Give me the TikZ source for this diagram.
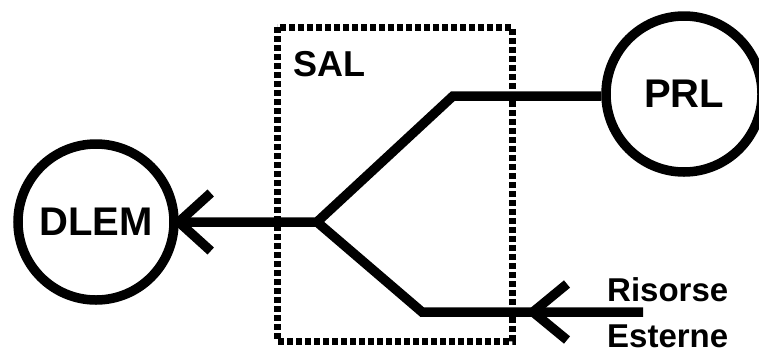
\documentclass[tikz,border=0pt]{standalone}
\usepackage{fontspec}
\setmainfont{Liberation Sans}
\usetikzlibrary{calc}
\begin{document}
\begin{tikzpicture}[x=1pt,y=-1pt,
  wire/.style={line width=9.5pt, line join=miter},
  barb/.style={line width=9.5pt, line join=miter, line cap=butt},
  ring/.style={circle, draw, line width=9.5pt, inner sep=0pt, font=\bfseries\fontsize{40}{44}\selectfont},
  dotbox/.style={line width=7pt, dash pattern=on 6pt off 3pt},
  lbl/.style={font=\bfseries\fontsize{33}{46}\selectfont, inner sep=0pt}]
\useasboundingbox (0,0) rectangle (759,354);

% actors
\node[ring, minimum size=156pt] (dlem) at (96,222) {DLEM};
\node[ring, minimum size=156pt] (prl) at (684,94) {PRL};

% SAL boundary
\draw[dotbox] (277,27) rectangle (512,341);
\node[lbl, font=\bfseries\fontsize{36}{40}\selectfont] (sal) at (329,64) {SAL};

% branching flow
\coordinate (j) at (317,222);
\coordinate (up) at (453,96);
\coordinate (lo) at (422,312);
\coordinate (ext) at (643,312);
\coordinate (tipR) at (533,312);

\draw[wire] (dlem.east) -- (j) -- (up) -- (prl.west |- up);
\draw[wire] (j) -- (lo) -- (ext);

% open arrowheads
\draw[barb] ($(dlem.east)+(32,-29)$) -- (dlem.east) -- ++(32,29);
\draw[barb] ($(tipR)+(34,-28)$) -- (tipR) -- ++(34,28);

% external resources label (base = baseline of the last line)
\node[lbl, align=left, anchor=base west] (ris) at (607,347) {Risorse\\Esterne};
\end{tikzpicture}
\end{document}
